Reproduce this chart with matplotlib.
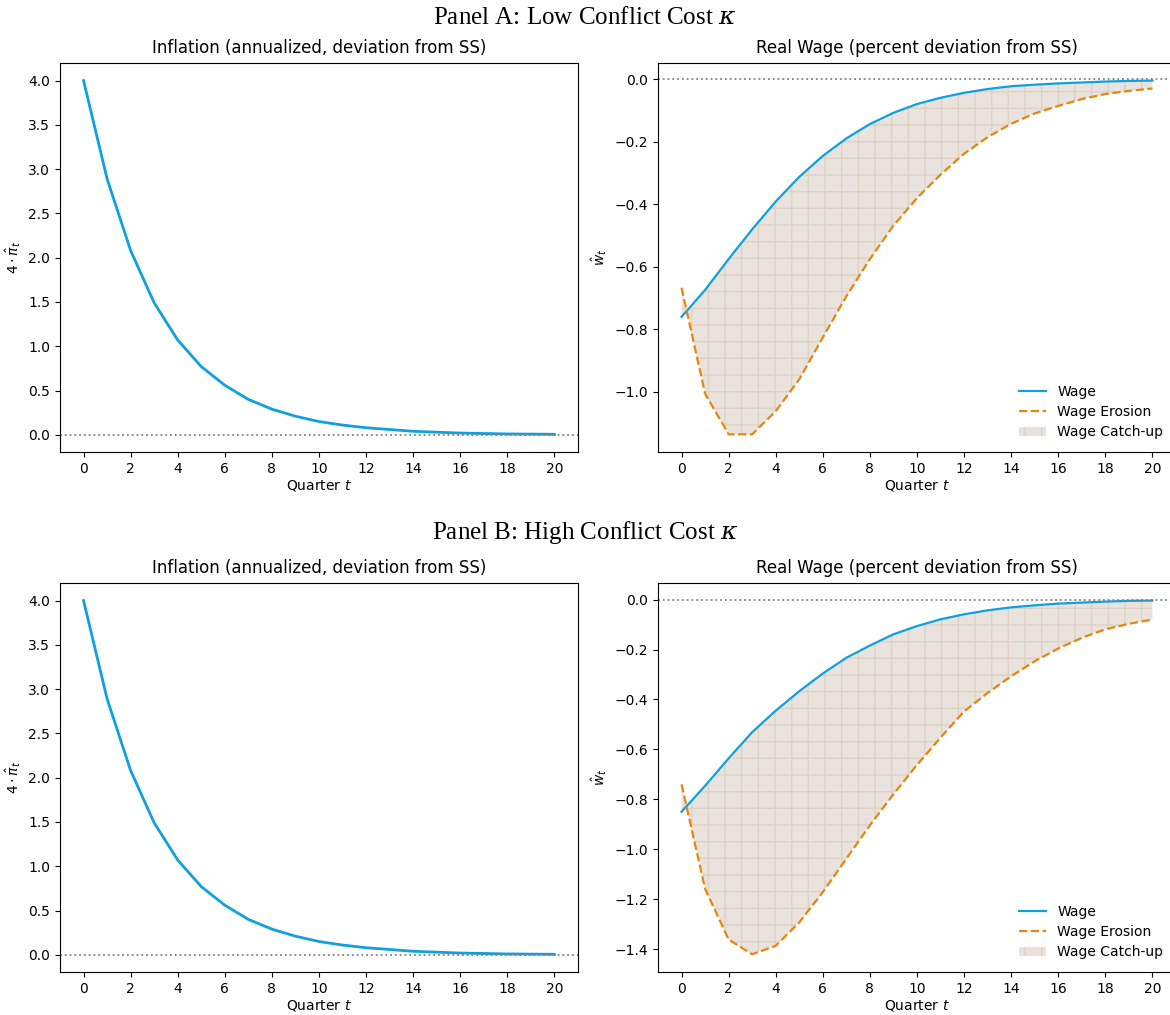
import matplotlib
matplotlib.use('Agg')
import matplotlib.pyplot as plt
import numpy as np

quarters = np.arange(0, 21)

# inflation, annualized (same in both panels)
infl_A = [4.00, 2.89, 2.08, 1.49, 1.07, 0.77, 0.56, 0.40, 0.29, 0.21, 0.15,
          0.11, 0.08, 0.06, 0.04, 0.03, 0.02, 0.015, 0.01, 0.008, 0.006]
infl_B = [4.00, 2.89, 2.08, 1.49, 1.07, 0.77, 0.56, 0.40, 0.29, 0.21, 0.15,
          0.11, 0.08, 0.06, 0.04, 0.03, 0.02, 0.015, 0.01, 0.008, 0.006]

# real wage, panel A (low conflict cost)
wage_A = [-0.760, -0.674, -0.575, -0.480, -0.391, -0.312, -0.245, -0.189, -0.143,
          -0.107, -0.079, -0.059, -0.043, -0.031, -0.022, -0.017, -0.013, -0.010,
          -0.007, -0.005, -0.004]
erosion_A = [-0.667, -1.006, -1.136, -1.136, -1.062, -0.960, -0.826, -0.694, -0.575,
             -0.468, -0.380, -0.305, -0.238, -0.185, -0.142, -0.109, -0.085, -0.063,
             -0.047, -0.037, -0.029]

# real wage, panel B (high conflict cost)
wage_B = [-0.850, -0.746, -0.636, -0.531, -0.445, -0.367, -0.296, -0.233, -0.184,
          -0.139, -0.106, -0.079, -0.059, -0.043, -0.031, -0.023, -0.016, -0.012,
          -0.008, -0.005, -0.004]
erosion_B = [-0.740, -1.159, -1.362, -1.421, -1.387, -1.293, -1.172, -1.038, -0.904,
             -0.780, -0.662, -0.553, -0.448, -0.374, -0.307, -0.247, -0.196, -0.153,
             -0.119, -0.097, -0.080]

panel_titles = ['Panel A: Low Conflict Cost $\\kappa$', 'Panel B: High Conflict Cost $\\kappa$']

BLUE = '#0fa0dd'
ORANGE = '#e8850c'

plt.rcParams['hatch.color'] = '#ddd2c4'
plt.rcParams['hatch.linewidth'] = 1.0

fig = plt.figure(figsize=(11.7, 10.15), dpi=100)

rows = [(0.5547, infl_A, wage_A, erosion_A, 0.9823),
        (0.0424, infl_B, wage_B, erosion_B, 0.4749)]

for i, (bottom, infl, wage, erosion, ty) in enumerate(rows):
    fig.text(0.5, ty, panel_titles[i], ha='center', va='center',
             fontsize=18, family='Liberation Serif', math_fontfamily='dejavuserif')

    ############ inflation ############
    ax1 = fig.add_axes([0.0513, bottom, 0.4427, 0.3833])
    ax1.plot(quarters, infl, color=BLUE, lw=2)
    ax1.axhline(0, color='gray', ls=':', lw=1.3)
    ax1.set_title('Inflation (annualized, deviation from SS)', fontsize=12, pad=7)
    ax1.set_xlabel('Quarter $t$', labelpad=2)
    ax1.set_ylabel('$4 \\cdot \\hat{\\pi}_t$')
    ax1.set_xticks(range(0, 21, 2))

    ############ real wage ############
    ax2 = fig.add_axes([0.5624, bottom, 0.4427, 0.3833])
    ax2.fill_between(quarters, wage, erosion, facecolor='#eae3dd', edgecolor='#ddd2c4',
                     hatch='+', linewidth=0, label='Wage Catch-up')
    ax2.plot(quarters, wage, color=BLUE, lw=1.6, label='Wage')
    ax2.plot(quarters, erosion, color=ORANGE, lw=1.6, ls='--', label='Wage Erosion')
    ax2.axhline(0, color='gray', ls=':', lw=1.3)
    ax2.set_title('Real Wage (percent deviation from SS)', fontsize=12, pad=7)
    ax2.set_xlabel('Quarter $t$', labelpad=2)
    ax2.set_ylabel('$\\hat{w}_t$')
    ax2.set_xticks(range(0, 21, 2))
    h, l = ax2.get_legend_handles_labels()
    ax2.legend([h[1], h[2], h[0]], [l[1], l[2], l[0]], loc='lower right', frameon=False,
               labelspacing=0.45)

fig.savefig('out.png', dpi=100)
